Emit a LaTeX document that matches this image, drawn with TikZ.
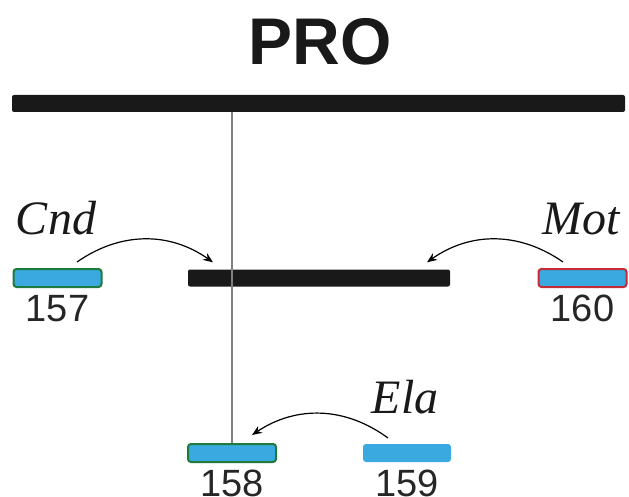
\documentclass[tikz,border=0pt]{standalone}
\usepackage{fontspec}
\setmainfont{Liberation Serif}
\setsansfont{Liberation Sans}
\usepackage{tikz}
\usetikzlibrary{arrows.meta,positioning}

\definecolor{segblue}{HTML}{3AA9E0}
\definecolor{rimgreen}{HTML}{1F7A3E}
\definecolor{rimred}{HTML}{C62A36}

\tikzset{
  bar/.style={fill=black!90, rounded corners=2pt, inner sep=0pt, minimum height=17pt},
  seg/.style={fill=segblue, rounded corners=3pt, inner sep=0pt,
    minimum width=88pt, minimum height=18pt, line width=2pt},
  num/.style={font=\sffamily\fontsize{38}{38}\selectfont, inner sep=0pt,
    anchor=base, text=black!85},
  term/.style={font=\itshape\fontsize{48}{48}\selectfont, inner sep=0pt,
    anchor=base, text=black!90},
  bendarrow/.style={-{Stealth[length=10pt,width=8pt]}, line width=1.2pt},
}

\begin{document}
\begin{tikzpicture}[x=1pt,y=1pt]
    \useasboundingbox (0,0) rectangle (629,-497);

    % Title
    \node[font=\sffamily\bfseries\fontsize{66}{66}\selectfont,
        inner sep=0pt, anchor=base, text=black!90] (title) at (320,-65) {PRO};

    % Bars
    \node[bar, minimum width=613pt] (top) at (318.5,-103.5) {};
    \node[bar, minimum width=262pt] (mid) at (319,-278) {};

    % Blue segments
    \node[seg, draw=rimgreen] (s157) at (57.5,-278) {};
    \node[seg, draw=rimred] (s160) at (582.5,-278) {};
    \node[seg, draw=rimgreen] (s158) at (232,-453) {};
    \node[seg] (s159) at (407,-453) {};

    % Stem
    \draw[gray, line width=1.5pt] (top.south -| s158.north) -- (s158.north);

    % Numbers
    \node[num] (n157) at ([yshift=-33pt]s157.south) {157};
    \node[num] (n160) at ([yshift=-33pt]s160.south) {160};
    \node[num] (n158) at ([yshift=-33pt]s158.south) {158};
    \node[num] (n159) at ([yshift=-33pt]s159.south) {159};

    % Terms
    \node[term] (cnd) at (56,-235) {Cnd};
    \node[term] (mot) at (581,-235) {Mot};
    \node[term] (ela) at (405,-413) {Ela};

    % Arrows
    \draw[bendarrow] ([xshift=19.5pt,yshift=6pt]s157.north)
        to[bend left=35] ([xshift=-106pt,yshift=7pt]mid.north);
    \draw[bendarrow] ([xshift=-19.5pt,yshift=6pt]s160.north)
        to[bend right=35] ([xshift=108pt,yshift=7pt]mid.north);
    \draw[bendarrow] ([xshift=-19pt,yshift=5pt]s159.north)
        to[bend right=35] ([xshift=20pt,yshift=8pt]s158.north);

\end{tikzpicture}
\end{document}
